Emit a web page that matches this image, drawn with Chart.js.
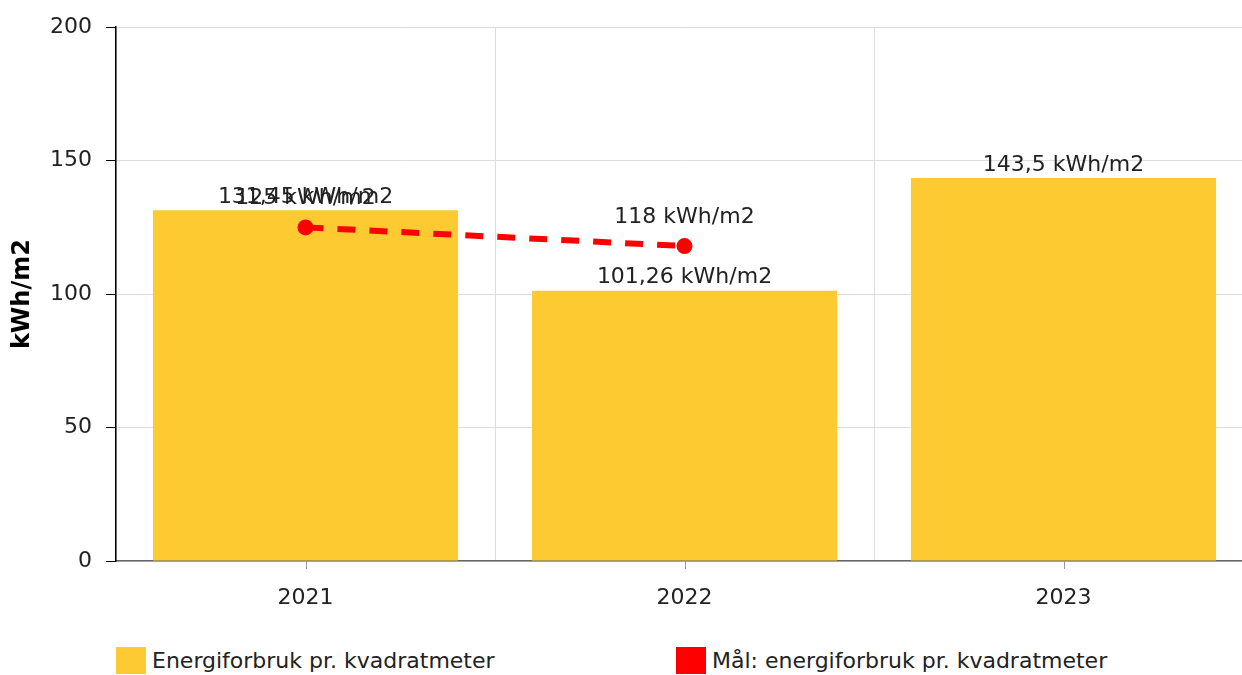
<!DOCTYPE html>
<html lang="no">
<head>
<meta charset="UTF-8">
<script src="https://cdn.jsdelivr.net/npm/chart.js"></script>
<title>Energiforbruk</title>
<style>
  body { margin: 0; width: 1242px; height: 675px; background: #fff; font-family: "DejaVu Sans", Verdana, sans-serif; overflow: hidden; }
  .wrap { position: relative; width: 1253px; height: 635px; }
  .legend { position: absolute; top: 647px; left: 0; width: 1242px; height: 28px; }
  .legend .item { position: absolute; top: 0; display: flex; align-items: center; font-size: 22px; color: #222; }
  .legend .box { width: 30px; height: 27px; margin-right: 6px; }
</style>
</head>
<body>
<div class="wrap"><canvas id="grafEnergi"></canvas></div>
<div class="legend" id="legende"></div>

<script>
    var aar = ['2021', '2022', '2023']
    var forbruk = [131.45, 101.26, 143.5]
    var maal = [125, 118, null]
    var yTicks = [0, 50, 100, 150, 200]

    var fontFam = '"DejaVu Sans", Verdana, sans-serif'

    function fmt(v) {
        return String(v).replace('.', ',') + ' kWh/m2'
    }

    // verdier over søyler og punkter
    const etiketter = {
        id: 'etiketter',
        afterDatasetsDraw(chart) {
            const ctx = chart.ctx
            ctx.save()
            ctx.font = '22px ' + fontFam
            ctx.fillStyle = '#222'
            ctx.textAlign = 'center'
            ctx.textBaseline = 'middle'
            chart.data.datasets.forEach(function (ds, i) {
                chart.getDatasetMeta(i).data.forEach(function (el, j) {
                    if (ds.data[j] == null) return
                    var off = ds.type === 'line' ? 29 : 13
                    ctx.fillText(fmt(ds.data[j]), el.x, el.y - off)
                })
            })
            ctx.restore()
        }
    }

    // små tick-streker midt under hver kategori
    const xStreker = {
        id: 'xStreker',
        afterDraw(chart) {
            const x = chart.scales.x
            const ctx = chart.ctx
            ctx.save()
            ctx.strokeStyle = '#999'
            ctx.lineWidth = 1
            aar.forEach(function (a, i) {
                var px = Math.round(x.getPixelForValue(i)) + 0.5
                ctx.beginPath()
                ctx.moveTo(px, x.top)
                ctx.lineTo(px, x.top + 8)
                ctx.stroke()
            })
            ctx.restore()
        }
    }

    const grafEnergi = new Chart(document.getElementById('grafEnergi'), {
        type: 'bar',
        data: {
            labels: aar,
            datasets: [{
                type: 'line',
                label: 'Mål: energiforbruk pr. kvadratmeter',
                data: maal,
                borderColor: '#ff0000',
                backgroundColor: '#ff0000',
                borderWidth: 6,
                borderDash: [18, 14],
                pointRadius: 8,
                pointHoverRadius: 8,
                pointBorderWidth: 0,
                fill: false,
                spanGaps: false,
                order: 0
            }, {
                label: 'Energiforbruk pr. kvadratmeter',
                data: forbruk,
                backgroundColor: '#fdca32',
                categoryPercentage: 1,
                barPercentage: 0.805,
                order: 1
            }]
        },
        options: {
            responsive: true,
            maintainAspectRatio: false,
            animation: false,
            layout: { autoPadding: false, padding: { top: 15, right: 0, left: 0, bottom: 0 } },
            plugins: {
                legend: { display: false },
                tooltip: { enabled: false }
            },
            scales: {
                x: {
                    grid: { offset: true, color: '#dddddd', drawTicks: false },
                    border: { color: '#666', width: 1.5 },
                    ticks: { color: '#222', padding: 24, font: { size: 22, family: fontFam } },
                    afterFit: function (s) { s.height = 74 }
                },
                y: {
                    min: 0,
                    max: 200,
                    afterBuildTicks: function (s) { s.ticks = yTicks.map(v => ({ value: v })) },
                    grid: { color: '#dddddd', tickColor: '#000', tickLength: 10 },
                    border: { color: '#000', width: 1.5 },
                    ticks: { color: '#222', padding: 14, font: { size: 22, family: fontFam } },
                    title: {
                        display: true,
                        text: 'kWh/m2',
                        color: '#000',
                        padding: { top: 8, bottom: 0 },
                        font: { size: 24, weight: 'bold', family: fontFam }
                    },
                    afterFit: function (s) { s.width = 116 }
                }
            }
        },
        plugins: [etiketter, xStreker]
    });

    // legende under grafen
    var legendePos = [116, 676]
    var legende = document.getElementById('legende')
    grafEnergi.data.datasets.slice().reverse().forEach(function (ds, i) {
        var item = document.createElement('div')
        item.className = 'item'
        item.style.left = legendePos[i] + 'px'
        item.innerHTML = '<span class="box" style="background:' + ds.backgroundColor + '"></span>' + ds.label
        legende.appendChild(item)
    })
</script>
</body>
</html>
